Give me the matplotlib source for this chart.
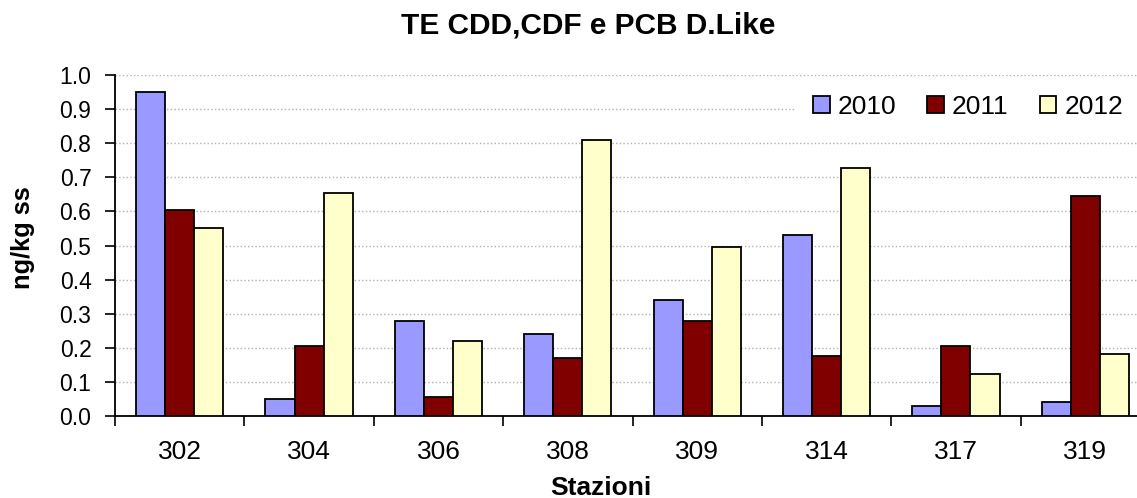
import numpy as np
import matplotlib.pyplot as plt

plt.rcParams['font.family'] = ['Liberation Sans', 'DejaVu Sans']

# dati
stazioni = ['302', '304', '306', '308', '309', '314', '317', '319']
anni = ['2010', '2011', '2012']
v2010 = [0.95, 0.05, 0.28, 0.24, 0.34, 0.53, 0.03, 0.04]
v2011 = [0.605, 0.205, 0.055, 0.17, 0.28, 0.177, 0.205, 0.645]
v2012 = [0.55, 0.655, 0.22, 0.81, 0.496, 0.727, 0.122, 0.182]
colori = ['#9999FF', '#800000', '#FFFFCC']

W, H = 1137, 498
fig = plt.figure(figsize=(W / 100, H / 100), dpi=100)
ax = fig.add_axes([115 / W, 1 - 416 / H, 1035 / W, 341 / H])

x = np.arange(len(stazioni))
w = 0.225
for i, (serie, c, lab) in enumerate(zip([v2010, v2011, v2012], colori, anni)):
    ax.bar(x + (i - 1) * w, serie, w, color=c, edgecolor='black', linewidth=1.3,
           label=lab, zorder=3)

ax.set_xlim(-0.5, len(stazioni) - 0.5)
ax.set_ylim(0, 1.0)
yt = np.arange(0, 1.01, 0.1)
ax.set_yticks(yt)
ax.set_yticklabels([f'{t:.1f}' for t in yt], fontsize=16.5)
ax.set_xticks(x)
ax.set_xticklabels(stazioni, fontsize=19)
ax.set_xticks(np.arange(-0.5, len(stazioni)), minor=True)
ax.tick_params(axis='x', which='major', length=0, pad=17)
ax.tick_params(axis='x', which='minor', length=7, width=1.2, direction='out')
ax.tick_params(axis='y', length=7, width=1.2, direction='out', pad=10)

ax.grid(axis='y', color='#b0b0b0', linestyle=':', linewidth=1, zorder=0)
for s in ['top', 'right']:
    ax.spines[s].set_visible(False)
ax.spines['left'].set_linewidth(1.3)
ax.spines['bottom'].set_linewidth(1.3)

fig.text(588 / W, 1 - 33 / H, 'TE CDD,CDF e PCB D.Like', fontsize=21.5,
         fontweight='bold', ha='center', va='baseline')
fig.text(23 / W, 1 - 238 / H, 'ng/kg ss', fontsize=18.3, fontweight='bold',
         rotation=90, ha='center', va='center')
fig.text(601 / W, 1 - 495 / H, 'Stazioni', fontsize=19, fontweight='bold',
         ha='center', va='baseline')

leg = ax.legend(ncol=3, loc='center right', bbox_to_anchor=(1141 / W, 1 - 107 / H),
                bbox_transform=fig.transFigure, borderaxespad=0,
                fontsize=19, frameon=True, fancybox=False, edgecolor='white',
                framealpha=1, handlelength=0.64, handleheight=0.64,
                handletextpad=0.3, columnspacing=1.17, borderpad=0.68)
leg.set_zorder(5)

fig.savefig('out.png', dpi=100)
